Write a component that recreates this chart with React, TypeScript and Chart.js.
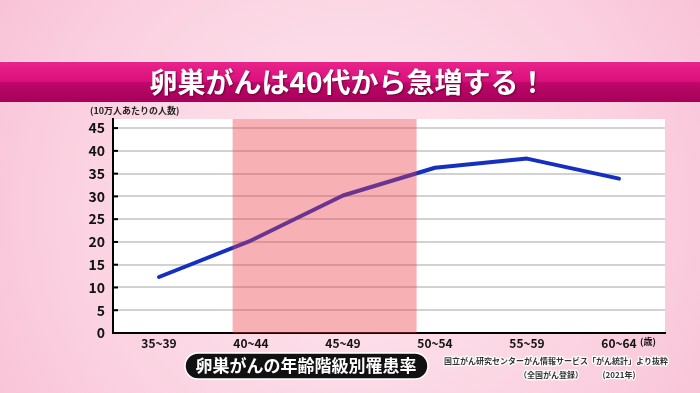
import React, { useEffect, useRef } from 'react';
import { Chart, registerables } from 'chart.js';

Chart.register(...registerables);

const categories = ['35~39', '40~44', '45~49', '50~54', '55~59', '60~64'];
const rates = [12.3, 20.3, 30.2, 36.3, 38.3, 33.9];
const yTicks = [0, 5, 10, 15, 20, 25, 30, 35, 40, 45];
const yMax = 47;
const highlightFrom = 0.8;
const highlightTo = 2.8;
const titleText = '卵巣がんは40代から急増する！';
const unitLabel = '(10万人あたりの人数)';
const ageUnit = '(歳)';
const subtitleText = '卵巣がんの年齢階級別罹患率';
const sourceLine1 = '国立がん研究センターがん情報サービス「がん統計」より抜粋';
const sourceLine2a = '（全国がん登録）';
const sourceLine2b = '(2021年)';

const FONT = '"Noto Sans CJK JP", "Noto Sans", sans-serif';

const decorPlugin = {
  id: 'decor',
  beforeDraw(chart: any) {
    const { ctx, width, height, chartArea } = chart;
    ctx.save();
    // page background
    const bg = ctx.createRadialGradient(350, 210, 40, 350, 210, 430);
    bg.addColorStop(0, '#fde4ed');
    bg.addColorStop(0.6, '#fbd2e1');
    bg.addColorStop(1, '#f8c0d5');
    ctx.fillStyle = bg;
    ctx.fillRect(0, 0, width, height);
    // title band
    const band = ctx.createLinearGradient(0, 62, 0, 102);
    band.addColorStop(0, '#e8248a');
    band.addColorStop(0.48, '#dc0f7e');
    band.addColorStop(0.52, '#bb0868');
    band.addColorStop(1, '#a8005a');
    ctx.fillStyle = band;
    ctx.fillRect(0, 62, width, 40);
    ctx.fillStyle = 'rgba(255,255,255,0.35)';
    ctx.fillRect(0, 61, width, 1);
    // title
    ctx.font = `bold 28px ${FONT}`;
    ctx.textAlign = 'center';
    ctx.textBaseline = 'middle';
    ctx.shadowColor = 'rgba(70,0,35,0.7)';
    ctx.shadowBlur = 2;
    ctx.shadowOffsetX = 1;
    ctx.shadowOffsetY = 1;
    ctx.fillStyle = '#ffffff';
    ctx.fillText(titleText, 348, 82);
    ctx.shadowColor = 'transparent';
    // plot white area
    ctx.fillStyle = '#ffffff';
    ctx.fillRect(chartArea.left, chartArea.top, chartArea.right - chartArea.left, chartArea.bottom - chartArea.top);
    ctx.restore();
  },
  afterDatasetsDraw(chart: any) {
    const { ctx, chartArea, scales } = chart;
    const x0 = scales.x.getPixelForValue(highlightFrom);
    const x1 = scales.x.getPixelForValue(highlightTo);
    ctx.save();
    ctx.fillStyle = 'rgba(235, 60, 70, 0.4)';
    ctx.fillRect(x0, chartArea.top, x1 - x0, chartArea.bottom - chartArea.top);
    ctx.restore();
  },
  afterDraw(chart: any) {
    const { ctx, chartArea, scales } = chart;
    ctx.save();
    // inner tick marks
    ctx.strokeStyle = '#000';
    ctx.lineWidth = 2;
    yTicks.forEach((v) => {
      const y = scales.y.getPixelForValue(v);
      ctx.beginPath();
      ctx.moveTo(chartArea.left, y);
      ctx.lineTo(chartArea.left + 5, y);
      ctx.stroke();
    });
    // unit label
    ctx.fillStyle = '#222';
    ctx.font = `bold 9px ${FONT}`;
    ctx.textAlign = 'left';
    ctx.textBaseline = 'middle';
    ctx.fillText(unitLabel, 90, 111);
    // age unit
    ctx.fillStyle = '#111';
    ctx.fillText(ageUnit, 640, 342);
    // subtitle pill
    ctx.beginPath();
    (ctx as any).roundRect(185, 353, 243, 26, 13);
    ctx.fillStyle = '#111';
    ctx.fill();
    ctx.strokeStyle = '#ffffff';
    ctx.lineWidth = 1.5;
    ctx.stroke();
    ctx.fillStyle = '#ffffff';
    ctx.font = `bold 17px ${FONT}`;
    ctx.textAlign = 'center';
    ctx.fillText(subtitleText, 306, 366);
    // source
    ctx.font = `bold 8px ${FONT}`;
    ctx.lineJoin = 'round';
    const outlined = (t: string, x: number, y: number, align: CanvasTextAlign) => {
      ctx.textAlign = align;
      ctx.strokeStyle = '#ffffff';
      ctx.lineWidth = 2.5;
      ctx.strokeText(t, x, y);
      ctx.fillStyle = '#333';
      ctx.fillText(t, x, y);
    };
    outlined(sourceLine1, 444, 361, 'left');
    outlined(sourceLine2a, 551, 375, 'center');
    outlined(sourceLine2b, 619, 375, 'center');
    ctx.restore();
  },
};

export default function App() {
  const ref = useRef<HTMLCanvasElement | null>(null);
  useEffect(() => {
    if (!ref.current) return;
    const chart = new Chart(ref.current, {
      type: 'line',
      data: {
        labels: categories,
        datasets: [
          {
            data: rates,
            borderColor: '#1530c0',
            borderWidth: 4,
            pointRadius: 0,
            tension: 0,
            fill: false,
            borderCapStyle: 'round',
            borderJoinStyle: 'round',
          },
        ],
      },
      options: {
        responsive: false,
        animation: false,
        devicePixelRatio: 1,
        layout: { padding: { top: 119, right: 35, left: 0, bottom: 0 } },
        plugins: { legend: { display: false }, tooltip: { enabled: false } },
        scales: {
          x: {
            type: 'category',
            offset: true,
            grid: { display: false, drawTicks: false },
            border: { display: true, color: '#000', width: 2 },
            ticks: {
              color: '#111',
              font: { family: FONT, size: 12, weight: 'bold' },
              padding: 3,
              maxRotation: 0,
            },
            afterFit: (s: any) => {
              s.height = 60;
            },
          },
          y: {
            min: 0,
            max: yMax,
            afterBuildTicks: (s: any) => {
              s.ticks = yTicks.map((v) => ({ value: v }));
            },
            grid: { color: '#d2d2d2', lineWidth: 2, drawTicks: false },
            border: { display: true, color: '#000', width: 2 },
            ticks: {
              color: '#111',
              font: { family: FONT, size: 14, weight: 'bold' },
              padding: 8,
            },
            afterFit: (s: any) => {
              s.width = 113;
            },
          },
        },
      },
      plugins: [decorPlugin],
    } as any);
    return () => chart.destroy();
  }, []);
  return (
    <div style={{ position: 'absolute', left: 0, top: 0, width: 700, height: 393 }}>
      <canvas ref={ref} width={700} height={393} style={{ display: 'block', width: 700, height: 393 }} />
    </div>
  );
}
